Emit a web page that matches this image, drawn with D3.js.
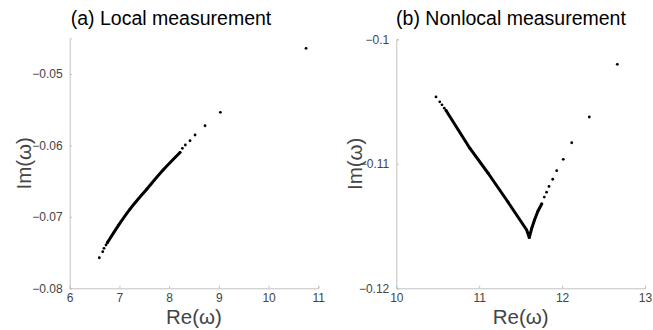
<!DOCTYPE html>
<html>
<head>
<meta charset="utf-8">
<script src="https://cdn.jsdelivr.net/npm/d3@7"></script>
<style>
  html, body { margin: 0; padding: 0; background: #fff; }
  svg { display: block; }
  .tick text { font-family: "Liberation Sans", Arial, sans-serif; font-size: 12px; fill: #444; }
</style>
</head>
<body>
<svg id="chart" width="653" height="330"></svg>
<script>
// (a) local measurement: continuous run of eigenvalues plus the isolated ones at both ends
const localRunRe  = [6.757, 6.984, 7.213, 7.549, 7.883, 8.219];
const localRunIm  = [-0.07362, -0.07115, -0.06891, -0.06612, -0.06341, -0.06099];
const localDotRe  = [6.596, 6.664, 6.690, 6.730, 8.266, 8.326, 8.420, 8.521, 8.722, 9.030, 10.754];
const localDotIm  = [-0.07572, -0.07488, -0.07440, -0.07394, -0.06040, -0.05994, -0.05934, -0.05854, -0.05724, -0.05536, -0.04640];

// (b) nonlocal measurement: V-shaped run plus isolated eigenvalues
const nonlocalRunRe = [10.600, 10.889, 11.110, 11.347, 11.573, 11.604, 11.631, 11.667, 11.709, 11.754];
const nonlocalRunIm = [-0.10572, -0.10877, -0.11078, -0.11307, -0.11532, -0.11592, -0.11524, -0.11451, -0.11379, -0.11323];
const nonlocalDotRe = [10.479, 10.524, 10.551, 10.579, 11.785, 11.813, 11.842, 11.887, 11.935, 12.014, 12.116, 12.328, 12.666];
const nonlocalDotIm = [-0.10463, -0.10502, -0.10526, -0.10553, -0.11267, -0.11228, -0.11182, -0.11124, -0.11055, -0.10964, -0.10831, -0.10624, -0.10201];

// axis ranges and tick values
const localXTicks = [6, 7, 8, 9, 10, 11];
const localYTicks = [-0.08, -0.07, -0.06, -0.05];
const nonlocalXTicks = [10, 11, 12, 13];
const nonlocalYTicks = [-0.12, -0.11, -0.1];

const titles = ["(a) Local measurement", "(b) Nonlocal measurement"];

const svg = d3.select("#chart");
const minus = s => s.replace("-", "\u2212");
const sans = "'Liberation Sans', Arial, sans-serif";

function panel(opt) {
  const x = d3.scaleLinear().domain(opt.xDomain).range([opt.left, opt.right]);
  const y = d3.scaleLinear().domain(opt.yDomain).range([opt.bottom, opt.top]);
  const g = svg.append("g");

  const xAxis = g.append("g")
    .attr("transform", `translate(0,${opt.bottom})`)
    .call(d3.axisBottom(x).tickValues(opt.xTicks).tickSize(-2.5).tickPadding(5)
      .tickFormat(d3.format("d")));
  const yAxis = g.append("g")
    .attr("transform", `translate(${opt.left},0)`)
    .call(d3.axisLeft(y).tickValues(opt.yTicks).tickSize(-2.5).tickPadding(7)
      .tickFormat(d => minus(String(+d.toFixed(3)))));
  [xAxis, yAxis].forEach(a => {
    a.select(".domain").attr("stroke", "#c2c2c2").attr("stroke-width", 1);
    a.selectAll(".tick line").attr("stroke", "#c2c2c2");
  });
  xAxis.selectAll(".tick text").attr("dy", "0.71em");

  // dense run of eigenvalues
  const run = opt.runRe.map((v, i) => [v, opt.runIm[i]]);
  g.append("path")
    .datum(run)
    .attr("fill", "none")
    .attr("stroke", "#000")
    .attr("stroke-width", 3)
    .attr("stroke-linecap", "round")
    .attr("stroke-linejoin", "round")
    .attr("d", d3.line().x(d => x(d[0])).y(d => y(d[1])).curve(opt.curve));

  // isolated eigenvalues
  const dots = opt.dotRe.map((v, i) => [v, opt.dotIm[i]]);
  g.selectAll("circle.pt").data(run.concat(dots)).join("circle")
    .attr("class", "pt")
    .attr("cx", d => x(d[0]))
    .attr("cy", d => y(d[1]))
    .attr("r", 1.4)
    .attr("fill", "#000");

  // labels
  g.append("text")
    .attr("x", (opt.left + opt.right) / 2)
    .attr("y", 324)
    .attr("text-anchor", "middle")
    .attr("font-family", sans)
    .attr("font-size", 20.5)
    .attr("fill", "#444")
    .text("Re(\u03c9)");
  g.append("text")
    .attr("transform", `translate(${opt.yLabelX},${(opt.top + opt.bottom) / 2}) rotate(-90)`)
    .attr("text-anchor", "middle")
    .attr("font-family", sans)
    .attr("font-size", 20.5)
    .attr("fill", "#444")
    .text("Im(\u03c9)");
  g.append("text")
    .attr("x", opt.titleX)
    .attr("y", 25)
    .attr("text-anchor", "middle")
    .attr("font-family", sans)
    .attr("font-size", 19.5)
    .attr("fill", "#000")
    .text(opt.title);
}

panel({
  left: 69.7, right: 318.3, top: 38.3, bottom: 288.3,
  xDomain: [6, 11], yDomain: [-0.08, -0.045],
  xTicks: localXTicks, yTicks: localYTicks,
  runRe: localRunRe, runIm: localRunIm, dotRe: localDotRe, dotIm: localDotIm,
  curve: d3.curveCatmullRom, yLabelX: 31, titleX: 171, title: titles[0]
});

panel({
  left: 396.3, right: 645, top: 39.3, bottom: 288.3,
  xDomain: [10, 13], yDomain: [-0.12, -0.1],
  xTicks: nonlocalXTicks, yTicks: nonlocalYTicks,
  runRe: nonlocalRunRe, runIm: nonlocalRunIm, dotRe: nonlocalDotRe, dotIm: nonlocalDotIm,
  curve: d3.curveLinear, yLabelX: 362, titleX: 511, title: titles[1]
});
</script>
</body>
</html>
